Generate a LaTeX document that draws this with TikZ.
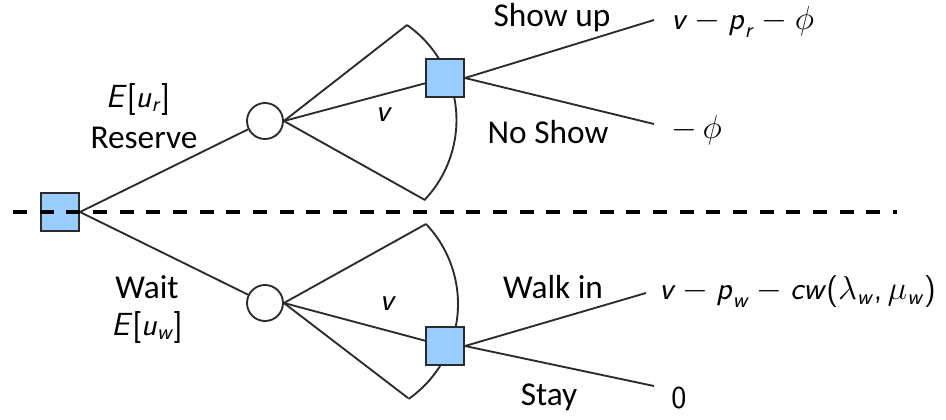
\documentclass[tikz,border=0pt]{standalone}
\usepackage{amsmath}
\usepackage{fontspec}
\setmainfont{Carlito}
\usetikzlibrary{backgrounds}
% sans italic letters and sans upright signs for the formulas
\newcommand{\sv}[1]{\textsf{\textit{#1}}}
\newcommand{\su}[1]{\textsf{#1}}
\definecolor{boxblue}{HTML}{99CCFF}
\definecolor{edge}{HTML}{2B2B2B}
\begin{document}
\begin{tikzpicture}[x=0.75pt,y=-0.75pt,
  font=\fontsize{24}{28}\selectfont,
  branch/.style={draw=edge,line width=1.4pt},
  decision/.style={draw=edge,line width=1.5pt,fill=boxblue,minimum size=28.5pt,inner sep=0pt},
  chance/.style={circle,draw=edge,line width=1.4pt,fill=white,minimum size=27pt,inner sep=0pt},
  lbl/.style={inner sep=0pt,anchor=center},
  txt/.style={lbl,font=\fontsize{25}{29}\selectfont},
  pay/.style={inner sep=0pt,anchor=west}]
\useasboundingbox (0,0) rectangle (946,419);

% decision and chance nodes
\node[decision] (root) at (60,212) {};
\node[chance] (cr) at (265,121) {};
\node[chance] (cw) at (265,303) {};
\node[decision] (dr) at (445,78) {};
\node[decision] (dw) at (445,346) {};

% ends of the branches
\coordinate (ra) at (407,25);
\coordinate (rb) at (425,200);
\coordinate (wa) at (426,224);
\coordinate (wb) at (408,398);
\coordinate (o1) at (654,20);
\coordinate (o2) at (654,124);
\coordinate (o3) at (646,293);
\coordinate (o4) at (654,386);

\begin{scope}[on background layer]
  % value fans
  \draw[branch] (ra) -- (cr.east) -- (rb);
  \draw[branch] (ra) arc[start angle=-55, end angle=43.6, radius=116];
  \draw[branch] (cr.east) -- (dr.center);
  \draw[branch] (wa) -- (cw.east) -- (wb);
  \draw[branch] (wa) arc[start angle=-43.6, end angle=55, radius=116];
  \draw[branch] (cw.east) -- (dw.center);
\end{scope}

\draw[branch] (root.east) -- (cr);
\draw[branch] (root.east) -- (cw);
\draw[branch] (dr.east) -- (o1);
\draw[branch] (dr.east) -- (o2);
\draw[branch] (dw.east) -- (o3);
\draw[branch] (dw.east) -- (o4);

% separator
\draw[black,line width=2.6pt,dash pattern=on 10.5pt off 9.5pt] (13,212) -- (897,212);

% labels
\node[lbl] (eur) at (138,99) {$\sv{E}\su{[}\sv{u}_{\sv{r}}\su{]}$};
\node[txt] (res) at (144,138) {Reserve};
\node[txt] (wait) at (147,287) {Wait};
\node[lbl] (euw) at (147,327) {$\sv{E}\su{[}\sv{u}_{\sv{w}}\su{]}$};
\node[lbl] (vr) at (384,115) {$\sv{v}$};
\node[lbl] (vw) at (388,304) {$\sv{v}$};
\node[txt] (show) at (552,18) {Show up};
\node[txt] (noshow) at (548,132) {No Show};
\node[txt] (walk) at (553,287) {Walk in};
\node[txt] (stay) at (549,397) {Stay};

% payoffs
\node[pay] (p1) at (671,22) {$\sv{v}-\sv{p}_{\sv{r}}-\phi$};
\node[pay] (p2) at (671,130) {$-\,\phi$};
\node[pay] (p3) at (659,292) {$\sv{v}-\sv{p}_{\sv{w}}-\sv{cw}\su{(}\lambda_{\sv{w}}\su{,}\,\mu_{\sv{w}}\su{)}$};
\node[pay] (p4) at (671,398) {$\su{0}$};
\end{tikzpicture}
\end{document}
